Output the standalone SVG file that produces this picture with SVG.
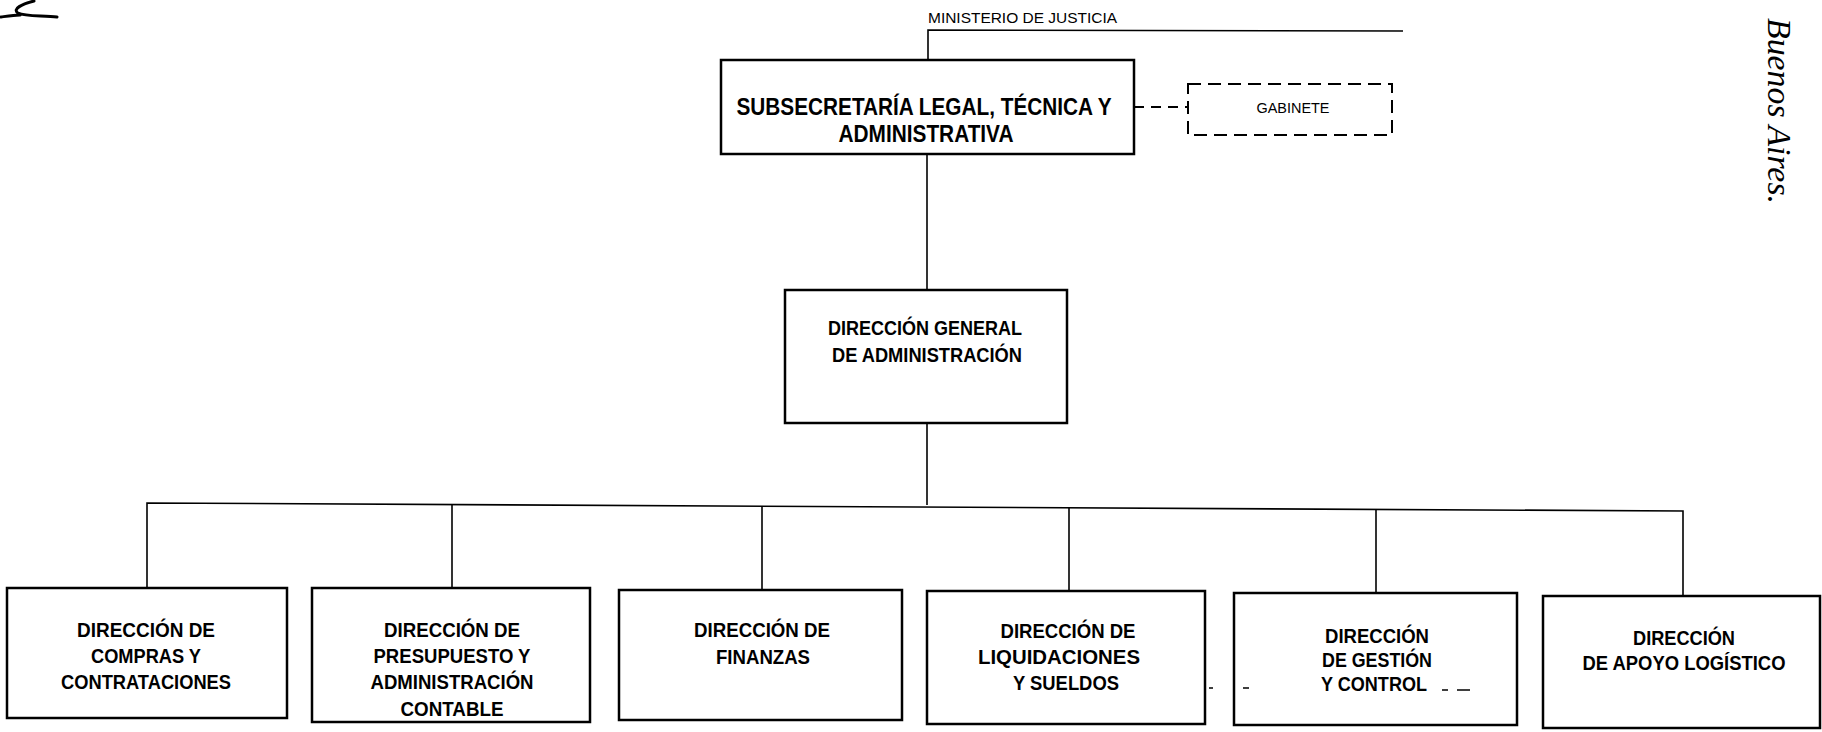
<svg xmlns="http://www.w3.org/2000/svg" width="1822" height="732" viewBox="0 0 1822 732">
<style>
.bg{fill:#fff}
.box{fill:#fff;stroke:#000;stroke-width:2.5}
.dbox{fill:#fff;stroke:#000;stroke-width:2;stroke-dasharray:13 7}
.ln{fill:none;stroke:#000;stroke-width:1.6}
.dln{fill:none;stroke:#000;stroke-width:2;stroke-dasharray:10 7}
.t{font-family:"Liberation Sans Narrow","Liberation Sans",Arial,sans-serif;font-weight:bold;fill:#000;text-anchor:middle}
.s{font-family:"Liberation Sans Narrow","Liberation Sans",Arial,sans-serif;fill:#000}
.f20{font-size:20px}
.mark{fill:none;stroke:#000;stroke-width:1.6}
</style>
<rect class="bg" x="0" y="0" width="1822" height="732"/>

<g id="connectors">
  <path class="ln" d="M928 60 V30 L1403 31"/>
  <path class="ln" d="M927 154 V290"/>
  <path class="ln" d="M927 423 V505"/>
  <path class="ln" d="M147 588 V503 L1683 511 V596"/>
  <path class="ln" d="M452 505 V588"/>
  <path class="ln" d="M762 506 V590"/>
  <path class="ln" d="M1069 508 V591"/>
  <path class="ln" d="M1376 509 V593"/>
  <path class="dln" d="M1134 107 H1188"/>
</g>

<g id="ministerio">
  <text class="s" x="928" y="23" font-size="15" textLength="189" lengthAdjust="spacingAndGlyphs">MINISTERIO DE JUSTICIA</text>
</g>

<g id="subsecretaria">
  <rect class="box" x="721" y="60" width="413" height="94"/>
  <text class="t" x="924" y="115" font-size="24" textLength="375" lengthAdjust="spacingAndGlyphs">SUBSECRETARÍA LEGAL, TÉCNICA Y</text>
  <text class="t" x="926" y="142" font-size="24" textLength="175" lengthAdjust="spacingAndGlyphs">ADMINISTRATIVA</text>
</g>

<g id="gabinete">
  <rect class="dbox" x="1188" y="84" width="204" height="51"/>
  <text class="s" x="1293" y="113" font-size="14" text-anchor="middle" textLength="73" lengthAdjust="spacingAndGlyphs">GABINETE</text>
</g>

<g id="dga">
  <rect class="box" x="785" y="290" width="282" height="133"/>
  <text class="t f20" x="925" y="335" textLength="194" lengthAdjust="spacingAndGlyphs">DIRECCIÓN GENERAL</text>
  <text class="t f20" x="927" y="362" textLength="190" lengthAdjust="spacingAndGlyphs">DE ADMINISTRACIÓN</text>
</g>

<g id="compras">
  <rect class="box" x="7" y="588" width="280" height="130"/>
  <text class="t f20" x="146" y="637" textLength="138" lengthAdjust="spacingAndGlyphs">DIRECCIÓN DE</text>
  <text class="t f20" x="146" y="663" textLength="110" lengthAdjust="spacingAndGlyphs">COMPRAS Y</text>
  <text class="t f20" x="146" y="689" textLength="170" lengthAdjust="spacingAndGlyphs">CONTRATACIONES</text>
</g>

<g id="presupuesto">
  <rect class="box" x="312" y="588" width="278" height="134"/>
  <text class="t f20" x="452" y="637" textLength="136" lengthAdjust="spacingAndGlyphs">DIRECCIÓN DE</text>
  <text class="t f20" x="452" y="663" textLength="157" lengthAdjust="spacingAndGlyphs">PRESUPUESTO Y</text>
  <text class="t f20" x="452" y="689" textLength="163" lengthAdjust="spacingAndGlyphs">ADMINISTRACIÓN</text>
  <text class="t f20" x="452" y="716" textLength="103" lengthAdjust="spacingAndGlyphs">CONTABLE</text>
</g>

<g id="finanzas">
  <rect class="box" x="619" y="590" width="283" height="130"/>
  <text class="t f20" x="762" y="637" textLength="136" lengthAdjust="spacingAndGlyphs">DIRECCIÓN DE</text>
  <text class="t f20" x="763" y="664" textLength="94" lengthAdjust="spacingAndGlyphs">FINANZAS</text>
</g>

<g id="liquidaciones">
  <rect class="box" x="927" y="591" width="278" height="133"/>
  <text class="t f20" x="1068" y="638" textLength="135" lengthAdjust="spacingAndGlyphs">DIRECCIÓN DE</text>
  <text class="t f20" x="1059" y="664" textLength="162" lengthAdjust="spacingAndGlyphs">LIQUIDACIONES</text>
  <text class="t f20" x="1066" y="690" textLength="106" lengthAdjust="spacingAndGlyphs">Y SUELDOS</text>
</g>

<g id="gestion">
  <rect class="box" x="1234" y="593" width="283" height="132"/>
  <text class="t f20" x="1377" y="643" textLength="104" lengthAdjust="spacingAndGlyphs">DIRECCIÓN</text>
  <text class="t f20" x="1377" y="667" textLength="110" lengthAdjust="spacingAndGlyphs">DE GESTIÓN</text>
  <text class="t f20" x="1374" y="691" textLength="106" lengthAdjust="spacingAndGlyphs">Y CONTROL</text>
</g>

<g id="apoyo">
  <rect class="box" x="1543" y="596" width="277" height="132"/>
  <text class="t f20" x="1684" y="645" textLength="102" lengthAdjust="spacingAndGlyphs">DIRECCIÓN</text>
  <text class="t f20" x="1684" y="670" textLength="203" lengthAdjust="spacingAndGlyphs">DE APOYO LOGÍSTICO</text>
</g>

<g id="marks">
  <path class="mark" d="M1209 688 H1213 M1243 688 H1249 M1442 690 H1448 M1457 690 H1470"/>
  <path fill="none" stroke="#000" stroke-width="3" stroke-linecap="round" d="M34 1 C22 4 12 9 18 13 C26 17 45 15 57 17 M1 17 C8 16 14 15 20 15"/>
</g>

<g id="margin">
  <text x="1768" y="18" transform="rotate(90 1768 18)" font-family="'Liberation Serif',serif" font-style="italic" font-size="34" fill="#000" textLength="186" lengthAdjust="spacingAndGlyphs">Buenos Aires.</text>
</g>
</svg>
